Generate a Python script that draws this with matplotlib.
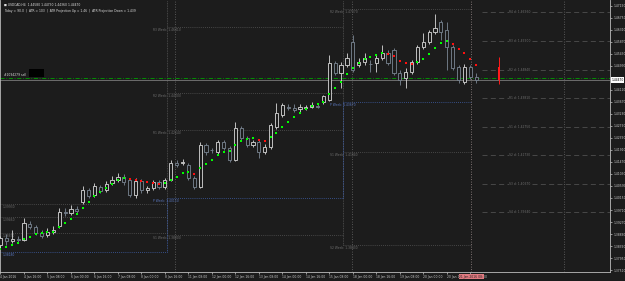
import matplotlib
matplotlib.use("Agg")
import matplotlib.pyplot as plt
from matplotlib.patches import Rectangle
import numpy as np

symbol = "USDCAD,H4"

# USDCAD H4, 4 Jan - 21 Jan 2016
opens = [1.3843, 1.3869, 1.3858, 1.3865, 1.3862, 1.3920, 1.3909, 1.3887, 1.3880, 1.3891,
         1.3913, 1.3964, 1.3960, 1.3975, 1.4001, 1.4045, 1.4026, 1.4056, 1.4045, 1.4070,
         1.4081, 1.4092, 1.4081, 1.4026, 1.4078, 1.4045, 1.4052, 1.4074, 1.4056, 1.4081,
         1.4143, 1.4143, 1.4136, 1.4089, 1.4056, 1.4209, 1.4191, 1.4184, 1.4220, 1.4198,
         1.4154, 1.4272, 1.4235, 1.4209, 1.4220, 1.4184, 1.4202, 1.4275, 1.4319, 1.4348,
         1.4345, 1.4341, 1.4345, 1.4348, 1.4352, 1.4367, 1.4374, 1.4509, 1.4473, 1.4502,
         1.4586, 1.4502, 1.4513, 1.4506, 1.4509, 1.4528, 1.4546, 1.4557, 1.4473, 1.4455,
         1.4476, 1.4513, 1.4568, 1.4586, 1.4623, 1.4659, 1.4630, 1.4568, 1.4495, 1.4440,
         1.4495, 1.4458]
closes = [1.3869, 1.3858, 1.3865, 1.3863, 1.3924, 1.3909, 1.3887, 1.3876, 1.3891, 1.3898,
          1.3964, 1.3960, 1.3975, 1.3968, 1.4045, 1.4023, 1.4059, 1.4041, 1.4067, 1.4081,
          1.4092, 1.4074, 1.4026, 1.4078, 1.4045, 1.4052, 1.4074, 1.4056, 1.4081, 1.4143,
          1.4136, 1.4147, 1.4089, 1.4056, 1.4209, 1.4184, 1.4189, 1.4220, 1.4198, 1.4154,
          1.4272, 1.4235, 1.4209, 1.4220, 1.4184, 1.4202, 1.4282, 1.4326, 1.4356, 1.4345,
          1.4337, 1.4348, 1.4348, 1.4356, 1.4350, 1.4389, 1.4509, 1.4473, 1.4502, 1.4528,
          1.4484, 1.4513, 1.4528, 1.4504, 1.4528, 1.4546, 1.4509, 1.4473, 1.4447, 1.4476,
          1.4513, 1.4568, 1.4586, 1.4623, 1.4638, 1.4623, 1.4568, 1.4491, 1.4447, 1.4495,
          1.4458, 1.4447]
highs = [1.3876, 1.3884, 1.3898, 1.3876, 1.3942, 1.3931, 1.3917, 1.3898, 1.3906, 1.3913,
         1.3979, 1.3979, 1.3990, 1.3986, 1.4059, 1.4052, 1.4070, 1.4063, 1.4078, 1.4096,
         1.4107, 1.4103, 1.4089, 1.4089, 1.4085, 1.4059, 1.4081, 1.4081, 1.4089, 1.4154,
         1.4154, 1.4158, 1.4143, 1.4096, 1.4220, 1.4217, 1.4198, 1.4228, 1.4228, 1.4206,
         1.4293, 1.4279, 1.4242, 1.4228, 1.4228, 1.4213, 1.4290, 1.4363, 1.4363, 1.4359,
         1.4359, 1.4359, 1.4356, 1.4367, 1.4359, 1.4392, 1.4539, 1.4517, 1.4513, 1.4546,
         1.4612, 1.4528, 1.4546, 1.4520, 1.4539, 1.4575, 1.4557, 1.4564, 1.4484, 1.4491,
         1.4520, 1.4575, 1.4619, 1.4630, 1.4689, 1.4667, 1.4659, 1.4575, 1.4502, 1.4506,
         1.4502, 1.4473]
lows = [1.3832, 1.3843, 1.3851, 1.3851, 1.3858, 1.3902, 1.3880, 1.3869, 1.3873, 1.3884,
        1.3906, 1.3949, 1.3953, 1.3957, 1.3993, 1.4015, 1.4019, 1.4034, 1.4037, 1.4063,
        1.4074, 1.4063, 1.4019, 1.4015, 1.4034, 1.4034, 1.4045, 1.4048, 1.4048, 1.4078,
        1.4129, 1.4136, 1.4081, 1.4048, 1.4052, 1.4173, 1.4180, 1.4176, 1.4191, 1.4147,
        1.4151, 1.4228, 1.4202, 1.4202, 1.4162, 1.4176, 1.4195, 1.4268, 1.4312, 1.4337,
        1.4330, 1.4330, 1.4337, 1.4345, 1.4345, 1.4359, 1.4370, 1.4466, 1.4418, 1.4495,
        1.4476, 1.4495, 1.4502, 1.4476, 1.4476, 1.4520, 1.4502, 1.4466, 1.4429, 1.4418,
        1.4469, 1.4506, 1.4561, 1.4579, 1.4616, 1.4594, 1.4484, 1.4484, 1.4436, 1.4433,
        1.4451, 1.4436]
ma_vals = [1.3829, 1.3836, 1.3843, 1.3851, 1.3865, 1.3873, 1.3884, 1.3887, 1.3891, 1.3892,
           1.3909, 1.3924, 1.3938, 1.3957, 1.3979, 1.4001, 1.4023, 1.4037, 1.4052, 1.4067,
           1.4081, 1.4089, 1.4085, 1.4081, 1.4078, 1.4074, 1.4070, 1.4068, 1.4070, 1.4081,
           1.4092, 1.4107, 1.4110, 1.4103, 1.4125, 1.4140, 1.4154, 1.4173, 1.4184, 1.4187,
           1.4209, 1.4224, 1.4231, 1.4233, 1.4228, 1.4224, 1.4239, 1.4253, 1.4275, 1.4293,
           1.4312, 1.4326, 1.4341, 1.4352, 1.4359, 1.4367, 1.4396, 1.4418, 1.4440, 1.4469,
           1.4491, 1.4509, 1.4524, 1.4531, 1.4539, 1.4546, 1.4544, 1.4535, 1.4517, 1.4509,
           1.4506, 1.4513, 1.4524, 1.4542, 1.4564, 1.4583, 1.4590, 1.4579, 1.4561, 1.4546,
           1.4524, 1.4502]

time_labels = ["4 Jan 2016", "4 Jan 16:00", "5 Jan 08:00", "6 Jan 00:00", "6 Jan 16:00",
               "7 Jan 08:00", "8 Jan 00:00", "8 Jan 16:00", "11 Jan 08:00", "12 Jan 00:00",
               "12 Jan 16:00", "13 Jan 08:00", "14 Jan 00:00", "14 Jan 16:00", "15 Jan 08:00",
               "18 Jan 00:00", "18 Jan 16:00", "19 Jan 08:00", "20 Jan 00:00", "20 Jan 16:00",
               "21 Jan 08:00"]

# weekly pivots, one list per week
week1_names = ["R3", "R2", "R1", "P"]
week1_vals = [1.3993, 1.3946, 1.3887, 1.3818]
week2_names = ["R3", "R2", "R1", "P", "S1"]
week2_vals = [1.4641, 1.4400, 1.4264, 1.4015, 1.3880]
week3_names = ["R2", "P", "S1", "S2"]
week3_vals = [1.4707, 1.4367, 1.4184, 1.3843]

# levels drawn in the empty space on the right
right_names = ["R4", "R3", "R2", "R1", "S1", "S2", "S3", "S4"]
right_vals = [1.4696, 1.4590, 1.4484, 1.4381, 1.4275, 1.4173, 1.4067, 1.3964]

order_price = 1.4455
proj_high, proj_low = 1.4531, 1.4433
proj_top, proj_bottom = 1.4495, 1.4447

bg = "#1c1c1c"
txt = "#c8c8c8"
grid = "#555555"
blue = "#3f5fa8"
fs = 2.2

fig = plt.figure(figsize=(6.25, 2.81), dpi=100, facecolor=bg)
ax = fig.add_axes([0, 9 / 281, 610 / 625, 272 / 281], facecolor=bg)
ax.set_xlim(-0.085, 103.8)
ax.set_ylim(1.3744, 1.4740)

n = len(closes)
xs = np.arange(n)

# weekly pivot step lines
starts = [-0.1, 28.4, 58.3]
ends = [28.4, 58.3, 80.2]
label_x = [0.3, 26.0, 56.2]
for k, (names, vals) in enumerate([(week1_names, week1_vals), (week2_names, week2_vals),
                                   (week3_names, week3_vals)]):
    for nm, v in zip(names, vals):
        col = blue if nm == "P" else grid
        ax.hlines(v, starts[k], ends[k], colors=col, linestyles=(0, (1, 1.5)), lw=0.6)
        tcol = "#5b78c0" if nm == "P" else "#6e6e6e"
        # the first week's labels run off the left edge, only the value shows
        lab = f"{v:.5f}" if k == 0 else f"{nm} Week: {v:.5f}"
        ax.text(label_x[k], v - 0.0003, lab, ha="left", va="top", fontsize=fs, color=tcol)
ax.vlines(28.4, 1.3862, 1.4740, colors=grid, linestyles=(0, (1, 1)), lw=0.6)
ax.vlines(58.3, 1.3843, 1.4740, colors=grid, linestyles=(0, (1, 1)), lw=0.6)
ax.vlines(28.4, week1_vals[3], week2_vals[3], colors=blue, linestyles=(0, (1, 1)), lw=0.6)
ax.vlines(58.3, week2_vals[3], week3_vals[1], colors=blue, linestyles=(0, (1, 1)), lw=0.6)

# period separators and other verticals
for xv in [29.8, 59.8]:
    ax.axvline(xv, color="#6a6a6a", ls=(0, (1, 2)), lw=0.6)
ax.axvline(80.2, color="#9a8a8a", ls=(0, (1, 2)), lw=0.6)
ax.axvline(96.0, color="#6a6a6a", ls=(0, (1, 2)), lw=0.6)

# right-hand levels
for nm, v in zip(right_names, right_vals):
    ax.hlines(v, 82.0, 103.8, colors="#4f4f4f", linestyles=(0, (6, 4)), lw=0.6)
    ax.text(86.6, v, f"{nm} d: {v:.5f}", ha="left", va="center", fontsize=fs, color="#6e6e6e",
            bbox=dict(facecolor=bg, edgecolor="none", pad=0.3))

# order line and bid line
ax.axhline(order_price, color="#00a000", ls=(0, (5, 2, 1, 2)), lw=0.6)
ax.axhline(closes[-1], color="#7a7a7a", lw=0.6)
ax.text(0.6, order_price + 0.0004, "#1094279 sell", fontsize=fs, color="#dddddd", va="bottom")
ax.add_patch(Rectangle((4.8, order_price + 0.00035), 2.6, 0.0028, facecolor="black",
                       edgecolor="none", zorder=3))

# candles
bull_c = "#d9d9d9"
bear_c = "#7b8794"
for i in range(n):
    o, h, l, c = opens[i], highs[i], lows[i], closes[i]
    col = bull_c if c >= o else bear_c
    lo, hi = min(o, c), max(o, c)
    ax.vlines(i, l, lo, colors=col, lw=0.6, zorder=4)
    ax.vlines(i, hi, h, colors=col, lw=0.6, zorder=4)
    ax.add_patch(Rectangle((i - 0.27, lo), 0.54, max(hi - lo, 0.00012), facecolor=bg,
                           edgecolor=col, lw=0.6, zorder=5))

# coloured moving-average dots
ma = np.array(ma_vals)
up = np.r_[True, ma[1:] >= ma[:-1]]
ax.scatter(xs[up], ma[up], marker="s", s=4.5, color="#00ff00", linewidths=0, zorder=6)
ax.scatter(xs[~up], ma[~up], marker="s", s=4.5, color="#ff1010", linewidths=0, zorder=6)

# projection bar
ax.vlines(84.9, proj_low, proj_high, colors="#ff1a1a", lw=0.7, zorder=6)
ax.add_patch(Rectangle((84.65, proj_bottom), 0.5, proj_top - proj_bottom, facecolor="#ff1a1a",
                       edgecolor="none", zorder=6))

# axes styling
ax.spines["top"].set_visible(False)
for s in ["left", "right", "bottom"]:
    ax.spines[s].set_color("#bdbdbd")
    ax.spines[s].set_linewidth(0.6)
ax.yaxis.tick_right()
yt = 1.4719 - 0.0044 * np.arange(23)
ax.set_yticks(yt)
# the tick under the current-price box is hidden by it
ax.set_yticklabels(["" if abs(v - closes[-1]) < 0.0015 else f"{v:.5f}" for v in yt])
ax.tick_params(axis="y", colors=txt, labelsize=fs, length=1.5, width=0.5, pad=1)
ax.set_xticks(np.arange(0, 81, 4))
ax.set_xticklabels(time_labels[:-1] + [""], ha="left")
ax.tick_params(axis="x", colors=txt, labelsize=fs, length=1.5, width=0.5, pad=0.8)

# current price box on the axis
ax.text(1.002, closes[-1], f"{closes[-1]:.5f}", transform=ax.get_yaxis_transform(),
        ha="left", va="center", fontsize=fs, color="black",
        bbox=dict(facecolor="white", edgecolor="none", pad=0.4), clip_on=False)
# time box on the bottom axis (crosshair time), last tick label peeks out after it
ax.text(80.2, -0.017, "21 Jan 2016 08:", transform=ax.get_xaxis_transform(),
        ha="center", va="center", fontsize=fs, color="#222222",
        bbox=dict(facecolor="#e07a80", edgecolor="none", pad=0.4), clip_on=False)
ax.text(82.25, -0.017, "00", transform=ax.get_xaxis_transform(),
        ha="left", va="center", fontsize=fs, color=txt, clip_on=False)

# header texts
fig.text(4 / 625, 1 - 5 / 281,
         f"\u25a0 {symbol}  {opens[-1]:.5f} {highs[-1]:.5f} {lows[-1]:.5f} {closes[-1]:.5f}",
         fontsize=fs, color="#e0e0e0", va="center")
fig.text(4 / 625, 1 - 11 / 281,
         "Today = 90.0  |  ATR = 103  |  ATR Projection Up = 1.46  |  ATR Projection Down = 1.439",
         fontsize=fs, color="#e0e0e0", va="center")

fig.savefig("out.png", dpi=100, facecolor=bg)
